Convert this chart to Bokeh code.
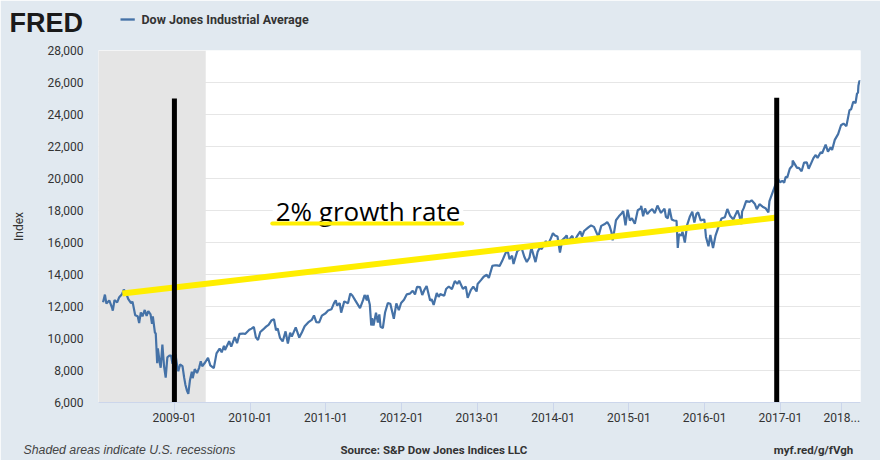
import pandas as pd
from bokeh.plotting import figure
from bokeh.models import (Range1d, FixedTicker, NumeralTickFormatter, DatetimeTickFormatter,
                          BoxAnnotation, Label, ColumnDataSource)
from bokeh.embed import file_html
from bokeh.resources import INLINE

# ---------------- data ----------------
dji_dates = [
    "2008-01-23","2008-02-01","2008-02-08","2008-02-22","2008-03-07","2008-03-10","2008-03-18","2008-03-31",
    "2008-04-10","2008-04-23","2008-05-02","2008-05-12","2008-05-23","2008-06-06","2008-06-13","2008-06-26",
    "2008-07-08","2008-07-15","2008-07-23","2008-07-31","2008-08-11","2008-08-20","2008-08-28","2008-09-08",
    "2008-09-15","2008-09-19","2008-09-29","2008-10-03","2008-10-10","2008-10-13","2008-10-22","2008-10-27",
    "2008-11-04","2008-11-12","2008-11-20","2008-11-28","2008-12-08","2008-12-16","2008-12-23","2008-12-31",
    "2009-01-06","2009-01-15","2009-01-20","2009-01-28","2009-02-09","2009-02-17","2009-02-23","2009-03-02",
    "2009-03-09","2009-03-17","2009-03-26","2009-03-30","2009-04-09","2009-04-20","2009-04-30","2009-05-08",
    "2009-05-15","2009-05-29","2009-06-12","2009-06-23","2009-07-10","2009-07-23","2009-08-07","2009-08-17",
    "2009-08-28","2009-09-02","2009-09-22","2009-10-02","2009-10-19","2009-10-30","2009-11-11","2009-11-27",
    "2009-12-08","2009-12-28",
    "2010-01-08","2010-01-19","2010-01-29","2010-02-08","2010-02-19","2010-03-05","2010-03-19","2010-03-31",
    "2010-04-15","2010-04-26","2010-05-06","2010-05-14","2010-05-25","2010-06-07","2010-06-21","2010-07-02",
    "2010-07-13","2010-07-21","2010-08-09","2010-08-26","2010-09-08","2010-09-21","2010-10-08","2010-10-25",
    "2010-11-05","2010-11-16","2010-11-30","2010-12-13","2010-12-31",
    "2011-01-12","2011-01-28","2011-02-10","2011-02-18","2011-02-24","2011-03-09","2011-03-16","2011-03-31",
    "2011-04-18","2011-04-29","2011-05-09","2011-05-23","2011-06-06","2011-06-15","2011-06-30","2011-07-07",
    "2011-07-18","2011-07-21","2011-08-01","2011-08-08","2011-08-12","2011-08-19","2011-08-31","2011-09-09",
    "2011-09-16","2011-09-22","2011-10-03","2011-10-14","2011-10-27","2011-11-08","2011-11-25","2011-12-07",
    "2011-12-19","2011-12-30",
    "2012-01-13","2012-01-26","2012-02-10","2012-02-24","2012-03-06","2012-03-16","2012-03-30","2012-04-10",
    "2012-04-20","2012-05-01","2012-05-18","2012-05-25","2012-06-04","2012-06-19","2012-06-28","2012-07-06",
    "2012-07-25","2012-08-03","2012-08-16","2012-08-31","2012-09-14","2012-09-26","2012-10-05","2012-10-23",
    "2012-11-06","2012-11-15","2012-11-30","2012-12-12","2012-12-28",
    "2013-01-02","2013-01-18","2013-01-31","2013-02-15","2013-02-25","2013-03-14","2013-03-28","2013-04-05",
    "2013-04-18","2013-04-30","2013-05-17","2013-05-28","2013-06-05","2013-06-17","2013-06-24","2013-07-12",
    "2013-07-23","2013-08-02","2013-08-15","2013-08-27","2013-09-09","2013-09-18","2013-10-08","2013-10-18",
    "2013-10-29","2013-11-07","2013-11-27","2013-12-05","2013-12-18","2013-12-31",
    "2014-01-10","2014-01-22","2014-02-03","2014-02-14","2014-02-28","2014-03-07","2014-03-14","2014-03-28",
    "2014-04-04","2014-04-11","2014-04-25","2014-05-12","2014-05-20","2014-05-30","2014-06-20","2014-07-03",
    "2014-07-17","2014-07-31","2014-08-07","2014-08-21","2014-09-05","2014-09-19","2014-09-30","2014-10-09",
    "2014-10-15","2014-10-24","2014-10-31","2014-11-14","2014-11-28","2014-12-05","2014-12-16","2014-12-26",
    "2015-01-06","2015-01-16","2015-01-30","2015-02-13","2015-02-27","2015-03-02","2015-03-11","2015-03-20",
    "2015-03-31","2015-04-13","2015-04-24","2015-05-06","2015-05-19","2015-06-05","2015-06-22","2015-06-29",
    "2015-07-08","2015-07-16","2015-07-27","2015-08-07","2015-08-19","2015-08-25","2015-08-31","2015-09-11",
    "2015-09-17","2015-09-28","2015-10-09","2015-10-23","2015-11-03","2015-11-13","2015-11-23","2015-12-01",
    "2015-12-14","2015-12-22","2015-12-31",
    "2016-01-08","2016-01-20","2016-01-29","2016-02-11","2016-02-23","2016-03-08","2016-03-23","2016-04-08",
    "2016-04-20","2016-05-04","2016-05-19","2016-05-31","2016-06-08","2016-06-17","2016-06-27","2016-06-30",
    "2016-07-08","2016-07-20","2016-08-05","2016-08-15","2016-08-31","2016-09-09","2016-09-22","2016-10-07",
    "2016-10-21","2016-11-04","2016-11-09","2016-11-23","2016-12-08","2016-12-20","2016-12-30",
    "2017-01-10","2017-01-19","2017-01-26","2017-02-03","2017-02-15","2017-02-28","2017-03-01","2017-03-22",
    "2017-03-31","2017-04-13","2017-04-25","2017-05-08","2017-05-17","2017-05-31","2017-06-09","2017-06-20",
    "2017-06-29","2017-07-14","2017-07-21","2017-08-07","2017-08-18","2017-08-31","2017-09-07","2017-09-20",
    "2017-10-06","2017-10-20","2017-11-01","2017-11-15","2017-11-30","2017-12-08","2017-12-18","2017-12-29",
    "2018-01-05","2018-01-10","2018-01-12","2018-01-17","2018-01-19",
]
dji_values = [
    12270,12743,12182,12381,11894,11740,12392,12263,
    12581,12763,13058,12876,12480,12209,12307,11453,
    11385,10963,11632,11378,11782,11417,11715,11510,
    10918,11388,10365,10325,8451,9387,8519,8176,
    9625,8283,7552,8829,8934,8925,8420,8776,
    9015,8213,7950,8375,8270,7553,7115,6763,
    6547,7395,7924,7522,8083,7841,8168,8575,
    8268,8500,8799,8323,8146,9069,9370,9136,
    9544,9281,9829,9487,10093,9713,10291,10310,
    10286,10547,
    10618,10725,10067,9908,10403,10567,10742,10857,
    11145,11205,10520,10620,10043,9816,10442,9686,
    10364,10120,10698,10060,10388,10761,11006,11164,
    11444,11023,11006,11429,11578,
    11755,11824,12229,12391,12068,12214,11613,12320,
    12202,12811,12684,12381,12089,11897,12414,12719,
    12385,12724,12132,10810,11270,10817,11614,10992,
    11509,10733,10655,11644,12208,12170,11231,12196,
    11766,12218,
    12422,12756,12801,12983,12759,13232,13212,12716,
    13029,13279,12369,12454,12101,12837,12602,12772,
    12676,13096,13250,13090,13593,13413,13610,13102,
    13246,12542,13026,13245,12938,
    13412,13649,13861,13982,13784,14539,14579,14565,
    14537,14840,15354,15409,14960,15179,14659,15464,
    15568,15659,15112,14777,15064,15677,14776,15400,
    15681,15594,16097,15822,16167,16577,
    16437,16374,15373,16154,16322,16453,16065,16323,
    16413,16027,16361,16695,16374,16717,16948,17068,
    16977,16563,16368,17039,17138,17280,17043,16659,
    16142,16805,17391,17635,17828,17958,17068,18053,
    17372,17512,17165,18019,18133,18288,17635,18128,
    17776,17977,18080,17841,18312,17849,18120,17597,
    17515,18120,17441,17373,17349,15666,16528,16433,
    16675,16001,17084,17646,17918,17245,17792,17888,
    17368,17418,17425,
    16346,15766,16466,15660,16431,16964,17502,17577,
    18096,17651,17435,17787,18005,17675,17140,17930,
    18147,18595,18543,18636,18401,18085,18392,18240,
    18145,17888,18589,19083,19614,19974,19763,
    19855,19732,20100,20071,20611,20812,21115,20661,
    20663,20453,20996,21012,20607,21009,21272,21468,
    21287,21638,21580,22118,21675,21948,21785,22412,
    22774,23329,23435,23272,24272,24329,24792,24719,
    25296,25370,25803,26116,26071,
]

trend_dates = ["2008-04-25", "2016-12-14"]          # hand-drawn 2% growth line
trend_values = [12810, 17560]
marker_dates = ["2009-01-01", "2016-12-14"]         # hand-drawn black vertical lines
marker_tops = [25000, 25050]
recession = ["2007-12-01", "2009-06-01"]
x_tick_dates = ["2009-01-01", "2010-01-01", "2011-01-01", "2012-01-01", "2013-01-01",
                "2014-01-01", "2015-01-01", "2016-01-01", "2017-01-01"]
last_tick_date = "2017-10-24"
last_tick_label = "2018..."
y_ticks = [6000, 8000, 10000, 12000, 14000, 16000, 18000, 20000, 22000, 24000, 26000, 28000]

BG = "#e1e9f0"
FONT = "Roboto"
FRAME_LEFT, FRAME_TOP, FRAME_W, FRAME_H = 98, 50, 762, 352
X_START, X_END = "2008-01-01", "2018-01-22"
Y_START, Y_END = 6000, 28000


def ms(d):
    return pd.Timestamp(d).value / 1e6


p = figure(width=880, height=460, x_axis_type="datetime",
           x_range=Range1d(pd.Timestamp(X_START), pd.Timestamp(X_END)),
           y_range=Range1d(Y_START, Y_END),
           output_backend="svg", toolbar_location=None,
           min_border_left=FRAME_LEFT, min_border_right=20, min_border_top=FRAME_TOP,
           min_border_bottom=58,
           background_fill_color="white", border_fill_color=BG, outline_line_color=None)

p.add_layout(BoxAnnotation(left=ms(recession[0]), right=ms(recession[1]),
                           fill_color="#e5e5e5", fill_alpha=1.0, line_color=None, level="underlay"))

p.xgrid.grid_line_color = None
p.ygrid.grid_line_color = "#e6e6e6"
p.ygrid.ticker = FixedTicker(ticks=y_ticks)

p.yaxis.ticker = FixedTicker(ticks=y_ticks)
p.yaxis.formatter = NumeralTickFormatter(format="0,0")
p.yaxis.axis_line_color = None
p.yaxis.major_tick_line_color = None
p.yaxis.minor_tick_line_color = None
p.yaxis.major_tick_out = 0
p.yaxis.major_tick_in = 0
p.yaxis.major_label_standoff = 15
p.yaxis.major_label_text_font = FONT
p.yaxis.major_label_text_font_size = "12px"
p.yaxis.major_label_text_color = "#333333"
p.yaxis.axis_label = "Index"
p.yaxis.axis_label_text_font = FONT
p.yaxis.axis_label_text_font_size = "12px"
p.yaxis.axis_label_text_font_style = "normal"
p.yaxis.axis_label_text_color = "#333333"
p.yaxis.axis_label_standoff = 18

p.xaxis.ticker = FixedTicker(ticks=[ms(d) for d in x_tick_dates] + [ms(last_tick_date)])
p.xaxis.formatter = DatetimeTickFormatter(years="%Y-%m", months="%Y-%m", days="%Y-%m")
p.xaxis.major_label_overrides = {ms(last_tick_date): last_tick_label}
p.xaxis.axis_line_color = "#ccd6eb"
p.xaxis.major_tick_line_color = "#ccd6eb"
p.xaxis.minor_tick_line_color = None
p.xaxis.major_tick_out = 10
p.xaxis.major_tick_in = 0
p.xaxis.major_label_standoff = 0
p.xaxis.major_label_text_font = FONT
p.xaxis.major_label_text_font_size = "12px"
p.xaxis.major_label_text_color = "#333333"

src = ColumnDataSource(dict(x=pd.to_datetime(dji_dates), y=dji_values))
p.line("x", "y", source=src, line_color="#4572a7", line_width=2.2)

p.line(pd.to_datetime(trend_dates), trend_values, line_color="#ffee00", line_width=6)
p.segment(x0=pd.to_datetime(marker_dates), y0=[6000, 6000], x1=pd.to_datetime(marker_dates),
          y1=marker_tops, line_color="black", line_width=5)

p.add_layout(Label(x=ms("2010-04-20"), y=18000, text="2% growth rate", text_font="Open Sans",
                   text_font_size="26px", text_color="black", text_baseline="middle",
                   background_fill_color="white", padding=3))
p.segment(x0=[pd.Timestamp("2010-04-18")], y0=[17187], x1=[pd.Timestamp("2012-10-20")], y1=[17187],
          line_color="#ffee00", line_width=4, line_cap="round", level="overlay")


# Header / footer texts sit in side panels (so they are not clipped to the frame);
# their anchor is given through the plot's own scales, converted from page pixels.
def dx(px):
    return ms(X_START) + (px - FRAME_LEFT) * (ms(X_END) - ms(X_START)) / FRAME_W


def dy(py):
    return Y_END - (py - FRAME_TOP) * (Y_END - Y_START) / FRAME_H


def page_label(panel, text, px, py, size, color="#333333", font=FONT, style="normal",
               align="left", **kw):
    p.add_layout(Label(x=dx(px), y=dy(py), text=text, text_font=font, text_font_size=size,
                       text_color=color, text_font_style=style, text_align=align,
                       text_baseline="middle", **kw), panel)


page_label("above", "Dow Jones Industrial Average", 141, 19, "12.5px", style="bold")
page_label("above", "FRED", 9, 22, "27px", color="#1a1a1a", font="Liberation Sans", style="bold")
page_label("right", "\u2003" * 7, 120, 19, "2px", background_fill_color="#4572a7", padding=0)
page_label("below", "Shaded areas indicate U.S. recessions", 23, 449, "12.3px", color="#444444",
           font="Liberation Sans", style="italic")
page_label("below", "Source: S&P Dow Jones Indices LLC" + "\u2003" * 21 + "myf.red/g/fVgh",
           340, 449, "11.5px", style="bold")

html = file_html(p, INLINE).replace("<body>", '<body style="background:%s">' % BG, 1)
open("out.html", "w").write(html)
